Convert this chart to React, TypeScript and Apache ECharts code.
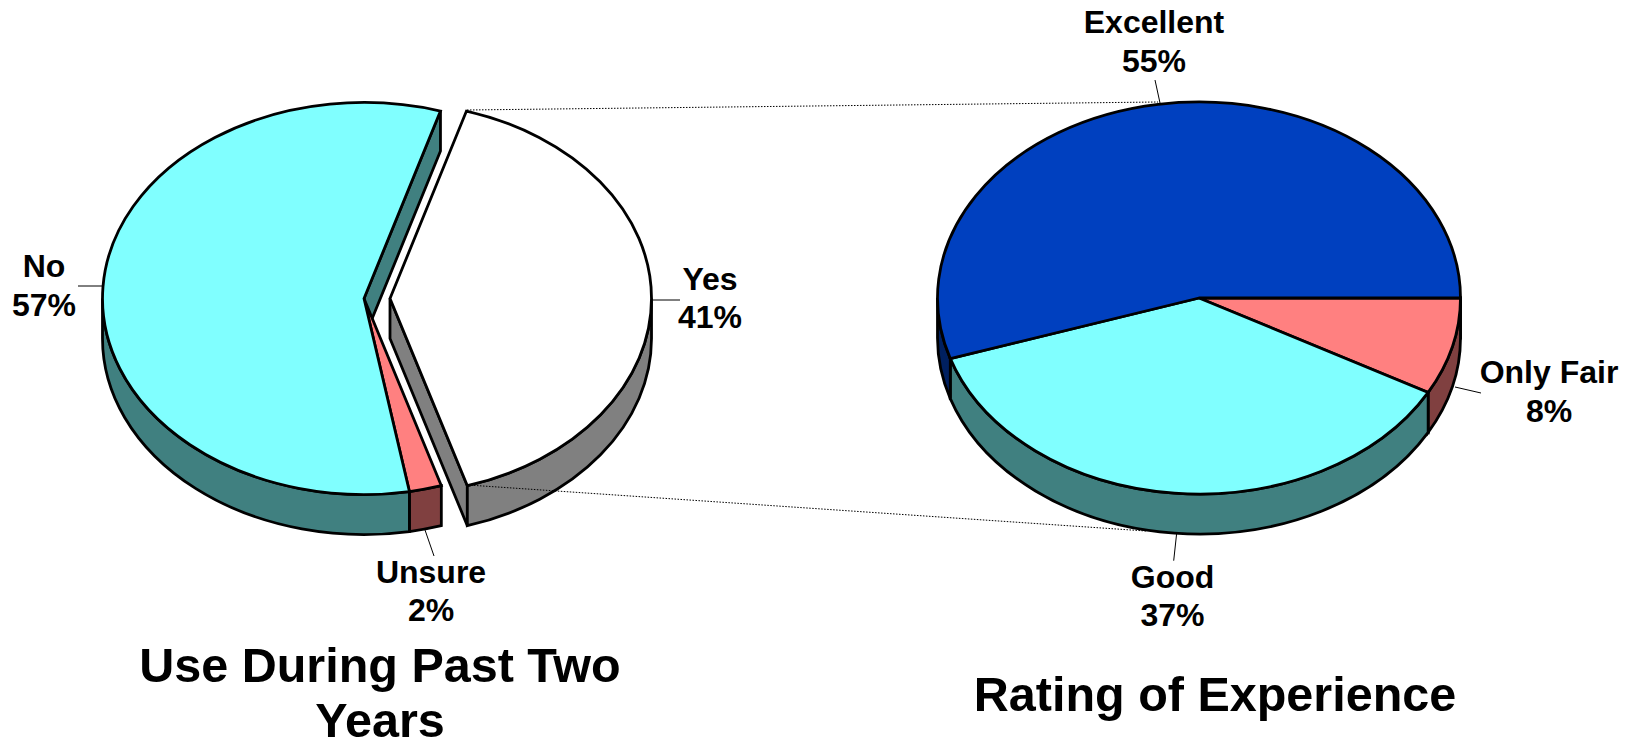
import React, { useEffect, useRef } from "react";
import * as echarts from "echarts";

const useCategories = ["Yes", "Unsure", "No"];
const useValues = [40.5, 2.0, 57.5];
const usePercentLabels = ["41%", "2%", "57%"];

const ratingCategories = ["Only Fair", "Good", "Excellent"];
const ratingValues = [8, 37, 55];
const ratingPercentLabels = ["8%", "37%", "55%"];

const titleLeft = ["Use During Past Two", "Years"];
const titleRight = ["Rating of Experience"];

const RX = 261.5;
const RY = 196;
const DEPTH = 40;
const STROKE = 2.8;

const COLOR = {
  white: ["#FFFFFF", "#808080"],
  pink: ["#FF8080", "#804040"],
  cyan: ["#80FFFF", "#408080"],
  blue: ["#0040BF", "#002060"],
};

const pies = [
  {
    values: useValues,
    startAngle: 17,
    centers: [
      [390, 298.5],
      [364, 298.5],
      [364, 298.5],
    ],
    colors: [COLOR.white, COLOR.pink, COLOR.cyan],
  },
  {
    values: ratingValues,
    startAngle: 90,
    centers: [
      [1199, 298],
      [1199, 298],
      [1199, 298],
    ],
    colors: [COLOR.pink, COLOR.cyan, COLOR.blue],
  },
];

function wedges(pie: (typeof pies)[number]) {
  const total = pie.values.reduce((a, b) => a + b, 0);
  let cur = pie.startAngle;
  return pie.values.map((v, i) => {
    const a = cur;
    const b = cur + (v / total) * 360;
    cur = b;
    return { a, b, c: pie.centers[i], colors: pie.colors[i] };
  });
}

function pt(c: number[], deg: number, dy = 0) {
  const r = (deg * Math.PI) / 180;
  return [c[0] + RX * Math.sin(r), c[1] - RY * Math.cos(r) + dy];
}
const f = (p: number[]) => `${p[0].toFixed(2)} ${p[1].toFixed(2)}`;

function topPath(c: number[], a: number, b: number) {
  const large = b - a > 180 ? 1 : 0;
  return `M ${f(c)} L ${f(pt(c, a))} A ${RX} ${RY} 0 ${large} 1 ${f(pt(c, b))} Z`;
}
function cutPath(c: number[], deg: number) {
  const e = pt(c, deg);
  return `M ${f(c)} L ${f(e)} L ${f([e[0], e[1] + DEPTH])} L ${f([c[0], c[1] + DEPTH])} Z`;
}
function outerPath(c: number[], a0: number, b0: number) {
  const candidates = [
    [Math.max(a0, 90), Math.min(b0, 270)],
    [Math.max(a0, 450), Math.min(b0, 630)],
  ];
  const hit = candidates.find(([x, y]) => y > x);
  if (!hit) return null;
  const [a, b] = hit;
  const top = pt(c, b);
  return (
    `M ${f(pt(c, a))} A ${RX} ${RY} 0 0 1 ${f(top)} ` +
    `L ${f(pt(c, b, DEPTH))} A ${RX} ${RY} 0 0 0 ${f(pt(c, a, DEPTH))} Z`
  );
}

function pieItems(pie: (typeof pies)[number], topOrder: number[]) {
  const w = wedges(pie);
  const items: { d: string; fill: string }[] = [];
  w.forEach((s) => {
    if (Math.sin((s.b * Math.PI) / 180) > 0) items.push({ d: cutPath(s.c, s.b), fill: s.colors[1] });
    if (Math.sin((s.a * Math.PI) / 180) < 0) items.push({ d: cutPath(s.c, s.a), fill: s.colors[1] });
  });
  w.forEach((s) => {
    const d = outerPath(s.c, s.a, s.b);
    if (d) items.push({ d, fill: s.colors[1] });
  });
  topOrder.forEach((i) => {
    const s = w[i];
    items.push({ d: topPath(s.c, s.a, s.b), fill: s.colors[0] });
  });
  return items;
}

function pieSeries(pie: (typeof pies)[number], topOrder: number[]) {
  const items = pieItems(pie, topOrder);
  return {
    type: "custom",
    coordinateSystem: "none",
    silent: true,
    animation: false,
    clip: false,
    data: items.map((_, i) => i),
    renderItem: (params: any) => {
      const it = items[params.dataIndex];
      return {
        type: "path",
        shape: { pathData: it.d },
        style: { fill: it.fill, stroke: "#000", lineWidth: STROKE, lineJoin: "miter" },
      };
    },
  };
}

const LABEL_SIZE = 32;
const TITLE_SIZE = 48.5;
const LINE_GAP = 38.5;
const fontOf = (size: number) => `bold ${size}px "Liberation Sans", Arial, sans-serif`;

function text(t: string, x: number, baseline: number, size: number) {
  return {
    type: "text",
    z: 20,
    silent: true,
    style: {
      text: t,
      x,
      y: baseline - size * 0.86,
      font: fontOf(size),
      fill: "#000",
      textAlign: "center",
      textBaseline: "top",
    },
  };
}
function line(x1: number, y1: number, x2: number, y2: number, dash?: number[]) {
  return {
    type: "line",
    z: 15,
    silent: true,
    shape: { x1, y1, x2, y2 },
    style: { stroke: "#000", lineWidth: 1, lineDash: dash },
  };
}

const labelSpots = [
  { name: useCategories[0], pct: usePercentLabels[0], x: 710, y: 290.5 },
  { name: useCategories[1], pct: usePercentLabels[1], x: 431, y: 583.5 },
  { name: useCategories[2], pct: usePercentLabels[2], x: 44, y: 278 },
  { name: ratingCategories[0], pct: ratingPercentLabels[0], x: 1549, y: 384 },
  { name: ratingCategories[1], pct: ratingPercentLabels[1], x: 1172.5, y: 588.5 },
  { name: ratingCategories[2], pct: ratingPercentLabels[2], x: 1154, y: 34 },
];

export default function App() {
  const ref = useRef<HTMLDivElement>(null);
  useEffect(() => {
    document.body.style.margin = "0";
    const chart = echarts.init(ref.current!, undefined, { renderer: "svg" });
    const elements: any[] = [
      line(467, 110, 1158, 102, [1.5, 1.5]),
      line(468, 485, 1146, 531, [1.5, 1.5]),
      line(78, 286, 103, 286),
      line(653, 300, 680, 300),
      line(425, 530, 434, 556),
      line(1455, 387, 1481, 393),
      line(1155, 80, 1160, 103),
      line(1176.7, 533, 1173.7, 560.7),
    ];
    labelSpots.forEach((l) => {
      elements.push(text(l.name, l.x, l.y, LABEL_SIZE));
      elements.push(text(l.pct, l.x, l.y + LINE_GAP, LABEL_SIZE));
    });
    elements.push(text(titleLeft[0], 380, 682, TITLE_SIZE));
    elements.push(text(titleLeft[1], 380, 737, TITLE_SIZE));
    elements.push(text(titleRight[0], 1215, 711, TITLE_SIZE));
    chart.setOption({
      animation: false,
      backgroundColor: "#fff",
      series: [pieSeries(pies[0], [0, 1, 2]), pieSeries(pies[1], [0, 1, 2])],
      graphic: { elements },
    });
    return () => chart.dispose();
  }, []);
  return <div ref={ref} style={{ width: 1636, height: 741 }} />;
}
